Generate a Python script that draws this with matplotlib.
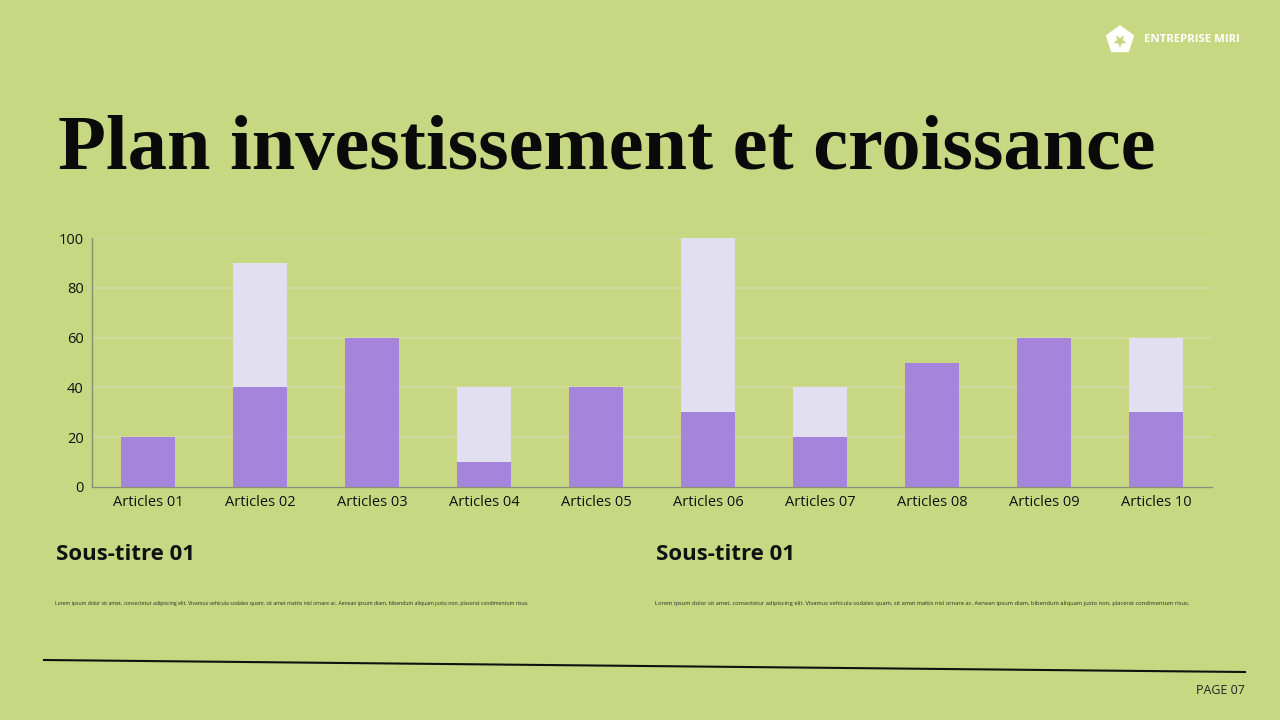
"""Stacked bar slide: Plan investissement et croissance."""
import matplotlib
matplotlib.use("Agg")
import matplotlib.pyplot as plt
import numpy as np
from matplotlib.patches import Polygon

BG = "#c8d882"
PURPLE = "#a585dc"
LAVENDER = "#e2dff0"

categories = [f"Articles {i:02d}" for i in range(1, 11)]
base_values = [20, 40, 60, 10, 40, 30, 20, 50, 60, 30]
top_values = [0, 50, 0, 30, 0, 70, 20, 0, 0, 30]
y_ticks = [0, 20, 40, 60, 80, 100]

lorem = ("Lorem ipsum dolor sit amet, consectetur adipiscing elit. Vivamus vehicula sodales quam, "
         "sit amet mattis nisl ornare ac. Aenean ipsum diam, bibendum aliquam justo non, "
         "placerat condimentum risus.")

fig = plt.figure(figsize=(12.8, 7.2), dpi=100, facecolor=BG)

# chart area
ax = fig.add_axes([92 / 1280, 1 - 487 / 720, 1120 / 1280, 249 / 720])
ax.set_facecolor(BG)
x = np.arange(len(categories))
ax.bar(x, base_values, width=0.49, color=PURPLE, zorder=3)
ax.bar(x, top_values, width=0.49, bottom=base_values, color=LAVENDER, zorder=3)
ax.set_xlim(-0.5, len(categories) - 0.5)
ax.set_ylim(0, 100)
ax.set_yticks(y_ticks)
ax.set_xticks(x)
ax.set_xticklabels(categories)
ax.tick_params(length=0, labelsize=10.5, colors="#111111", pad=6)
for lbl in ax.get_xticklabels() + ax.get_yticklabels():
    lbl.set_fontfamily("Open Sans")
ax.grid(axis="y", color="#d3dba8", linewidth=1.2, zorder=0)
for side in ("top", "right"):
    ax.spines[side].set_visible(False)
for side in ("left", "bottom"):
    ax.spines[side].set_color("#8a8f70")
    ax.spines[side].set_linewidth(1.0)

# title, scaled so it spans the same width as the reference
title = fig.text(58 / 1280, 1 - 169 / 720, "Plan investissement et croissance",
                 fontsize=60, fontweight="bold", family="Liberation Serif", color="#0a0a0a",
                 va="baseline", ha="left")
renderer = fig.canvas.get_renderer()
w = title.get_window_extent(renderer).width
title.set_fontsize(60 * 1099 / w)

# subtitles + body text (body scaled to the reference widths)
for x0, target in ((56, 477), (656, 537)):
    fig.text(x0 / 1280, 1 - 554 / 720, "Sous-titre 01", fontsize=16, fontweight="bold",
             family="Open Sans", color="#111111", va="center")
    body = fig.text((x0 - 1) / 1280, 1 - 604 / 720, lorem, fontsize=10, family="Open Sans",
                    color="#2a2a2a", va="center")
    bw = body.get_window_extent(renderer).width
    body.set_fontsize(10 * target / bw)

# bottom line and page number
fig.add_artist(plt.Line2D([44 / 1280, 1245 / 1280], [1 - 660 / 720, 1 - 672 / 720],
                          color="#111111", linewidth=1.5, transform=fig.transFigure))
fig.text(1245 / 1280, 1 - 691 / 720, "PAGE 07", fontsize=9, family="Open Sans",
         color="#222222", ha="right", va="center")

# logo
cx, cy, r = 1120, 40, 15
ang = np.deg2rad(90 + np.arange(5) * 72)
pent = [((cx + r * np.cos(a)) / 1280, 1 - (cy - r * np.sin(a)) / 720) for a in ang]
fig.add_artist(Polygon(pent, closed=True, facecolor="white", edgecolor="none",
                       transform=fig.transFigure))
star = []
for i in range(10):
    a = np.deg2rad(90 + i * 36 + 36)
    rr = 7 if i % 2 == 0 else 3
    star.append(((cx + rr * np.cos(a)) / 1280, 1 - (cy + 1 - rr * np.sin(a)) / 720))
fig.add_artist(Polygon(star, closed=True, facecolor=BG, edgecolor="none",
                       transform=fig.transFigure))
fig.text(1144 / 1280, 1 - 40 / 720, "ENTREPRISE MIRI", fontsize=8.2, fontweight="bold",
         family="Open Sans", color="white", va="center")

fig.savefig("out.png", dpi=100, facecolor=BG)
